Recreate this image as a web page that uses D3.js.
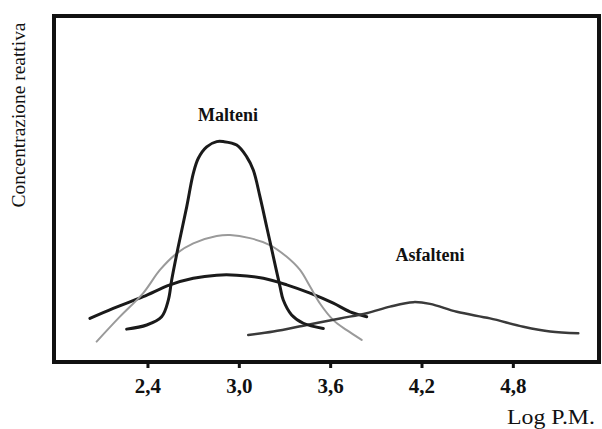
<!DOCTYPE html>
<html>
<head>
<meta charset="utf-8">
<script src="https://cdn.jsdelivr.net/npm/d3@7"></script>
<style>
  body { margin: 0; background: #fff; }
  svg { display: block; }
  text { font-family: "Liberation Serif", "Times New Roman", serif; fill: #111; }
</style>
</head>
<body>
<div id="chart"></div>
<script>
var width = 602;
var height = 429;

// tick labels on the Log P.M. axis
var xTicks = [2.4, 3.0, 3.6, 4.2, 4.8];

// curves, [log P.M., relative concentration]
var malteniNarrow = [
    [2.263, 9.5], [2.395, 10.7], [2.493, 13.1], [2.537, 17.9], [2.559, 23.7],
    [2.602, 33.3], [2.658, 44.9], [2.701, 54.5], [2.734, 58.9], [2.789, 62.2],
    [2.855, 63.7], [2.898, 63.7], [2.986, 62.7], [3.052, 59.3], [3.095, 55.5],
    [3.139, 47.8], [3.183, 39.1], [3.227, 30.4], [3.271, 21.7], [3.292, 17.9],
    [3.347, 13.6], [3.424, 11.2], [3.555, 9.7]
];
var malteniGrey = [
    [2.066, 5.9], [2.219, 13.1], [2.372, 19.9], [2.482, 26.6], [2.592, 31.4],
    [2.701, 34.3], [2.855, 36.4], [2.942, 36.7], [3.073, 35.8], [3.204, 33.8],
    [3.315, 30.4], [3.402, 26.6], [3.468, 21.8], [3.533, 16.9], [3.621, 12.1],
    [3.709, 9.2], [3.807, 6.4]
];
var malteniWide = [
    [2.022, 12.6], [2.175, 15.5], [2.372, 18.9], [2.548, 22.3], [2.701, 24.2],
    [2.855, 25.1], [2.986, 25.1], [3.161, 24.2], [3.315, 22.3], [3.468, 19.9],
    [3.621, 17.0], [3.731, 14.5], [3.840, 13.1]
];
var asfalteni = [
    [3.062, 7.8], [3.227, 8.8], [3.446, 10.7], [3.665, 12.6], [3.840, 14.1],
    [3.993, 16.0], [4.146, 17.3], [4.256, 16.8], [4.432, 14.5], [4.650, 12.6],
    [4.869, 10.2], [5.045, 8.8], [5.230, 8.3]
];

var margin = {left: 54, right: 3, top: 16, bottom: 67};

var svg = d3.select("#chart").append("svg")
    .attr("width", width)
    .attr("height", height);

var x = d3.scaleLinear()
    .domain([1.786, 5.366])
    .range([margin.left, width - margin.right]);
var y = d3.scaleLinear()
    .domain([0, 100])
    .range([height - margin.bottom, margin.top]);

// frame
svg.append("rect")
    .attr("x", margin.left)
    .attr("y", margin.top)
    .attr("width", width - margin.left - margin.right)
    .attr("height", height - margin.top - margin.bottom)
    .attr("fill", "none")
    .attr("stroke", "#111")
    .attr("stroke-width", 4);

// bottom axis: short ticks below the frame, bold labels
var xAxis = d3.axisBottom(x)
    .tickValues(xTicks)
    .tickSize(6)
    .tickPadding(10)
    .tickFormat(d => d3.format(".1f")(d).replace(".", ","));
var gx = svg.append("g")
    .attr("transform", "translate(0," + (height - margin.bottom) + ")")
    .call(xAxis);
gx.select(".domain").remove();
gx.selectAll(".tick line").attr("stroke", "#111").attr("stroke-width", 3);
gx.selectAll(".tick text")
    .style("font-family", '"Liberation Serif", serif')
    .style("font-size", "21px")
    .style("font-weight", "bold")
    .attr("fill", "#111");

var line = d3.line()
    .x(d => x(d[0]))
    .y(d => y(d[1]))
    .curve(d3.curveCatmullRom.alpha(0.5));

var series = [
    {data: malteniWide, color: "#1a1a1a", w: 3},
    {data: malteniGrey, color: "#9a9a9a", w: 2},
    {data: asfalteni, color: "#3a3a3a", w: 2.5},
    {data: malteniNarrow, color: "#1a1a1a", w: 3}
];
svg.selectAll(".curve").data(series).enter()
    .append("path")
    .attr("class", "curve")
    .attr("d", d => line(d.data))
    .attr("fill", "none")
    .attr("stroke", d => d.color)
    .attr("stroke-width", d => d.w)
    .attr("stroke-linecap", "round");

// labels
svg.append("text")
    .attr("x", 228).attr("y", 121)
    .attr("text-anchor", "middle")
    .style("font-size", "18px").style("font-weight", "bold")
    .text("Malteni");
svg.append("text")
    .attr("x", 430).attr("y", 261)
    .attr("text-anchor", "middle")
    .style("font-size", "18px").style("font-weight", "bold")
    .text("Asfalteni");

svg.append("text")
    .attr("transform", "translate(25,115) rotate(-90)")
    .attr("text-anchor", "middle")
    .attr("textLength", 185)
    .attr("lengthAdjust", "spacingAndGlyphs")
    .style("font-size", "18px")
    .text("Concentrazione reattiva");

svg.append("text")
    .attr("x", 507).attr("y", 424)
    .attr("textLength", 88)
    .attr("lengthAdjust", "spacingAndGlyphs")
    .style("font-size", "20px")
    .text("Log P.M.");
</script>
</body>
</html>
